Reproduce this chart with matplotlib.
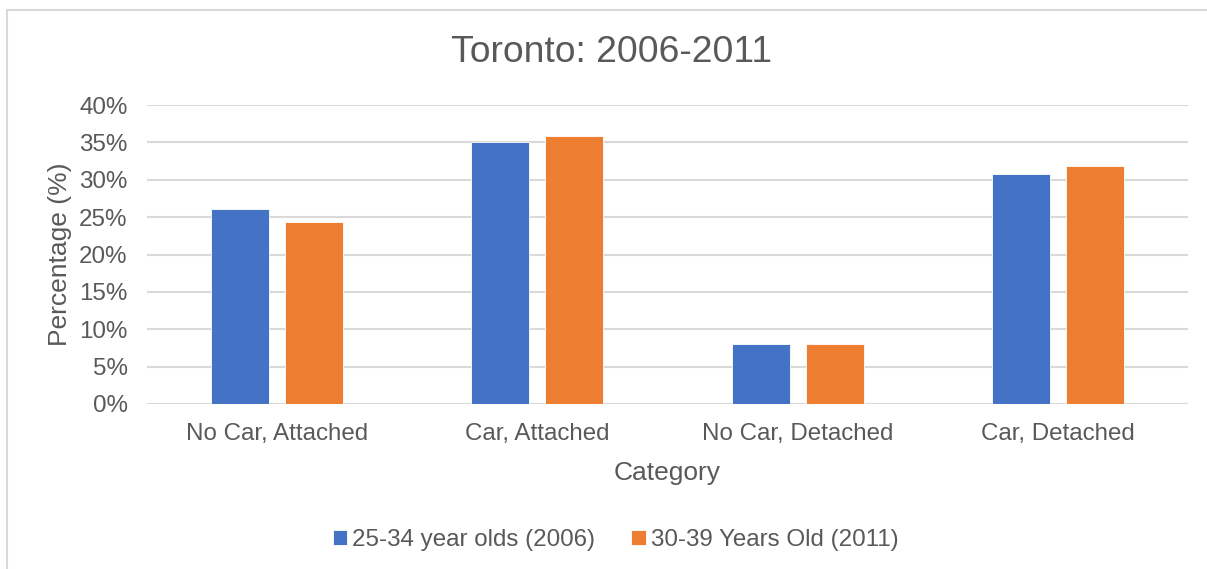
import matplotlib.pyplot as plt
import numpy as np
from matplotlib.patches import Rectangle

categories = ["No Car, Attached", "Car, Attached", "No Car, Detached", "Car, Detached"]
series_names = ["25-34 year olds (2006)", "30-39 Years Old (2011)"]
pct_2006 = [26.1, 35.0, 8.0, 30.8]
pct_2011 = [24.3, 35.9, 8.0, 31.8]
yticks = [0, 5, 10, 15, 20, 25, 30, 35, 40]

plt.rcParams['font.family'] = ['Liberation Sans', 'DejaVu Sans']
TEXT = '#595959'
GRID = '#d9d9d9'
BLUE = '#4472c4'
ORANGE = '#ed7d31'

W, H = 1207, 569
fig = plt.figure(figsize=(W / 100, H / 100), dpi=100)
ax = fig.add_axes([147 / W, 1 - 404 / H, (1188 - 147) / W, (404 - 105) / H])

# outer chart border (light gray, open at the bottom/right)
fig.patches.append(Rectangle((6.5 / W, -0.1), 1.2, 1.1 - 9.5 / H,
                             transform=fig.transFigure, fill=False,
                             edgecolor=GRID, linewidth=1.5))

x = np.arange(len(categories))
bw = 0.223
off = bw / 2 + 0.031
b1 = ax.bar(x - off, pct_2006, bw, color=BLUE, edgecolor='white', linewidth=0.6, zorder=3, label=series_names[0])
b2 = ax.bar(x + off, pct_2011, bw, color=ORANGE, edgecolor='white', linewidth=0.6, zorder=3, label=series_names[1])

ax.set_xlim(-0.5, len(categories) - 0.5)
ax.set_ylim(0, 40)
ax.set_yticks(yticks)
ax.set_yticklabels([f"{t}%" for t in yticks])
ax.set_xticks(x)
ax.set_xticklabels(categories)
ax.yaxis.grid(True, color=GRID, linewidth=1.5, zorder=0)
ax.set_axisbelow(True)
for s in ax.spines.values():
    s.set_visible(False)
ax.tick_params(axis='x', length=0, colors=TEXT, labelsize=17.4, pad=14)
ax.tick_params(axis='y', length=0, colors=TEXT, labelsize=17.4, pad=14)

ax.set_xlabel("Category", fontsize=19, color=TEXT, labelpad=11)
ax.set_ylabel("Percentage (%)", fontsize=19, color=TEXT, labelpad=5)

fig.text(0.507, 1 - 53 / H, "Toronto: 2006-2011", ha='center', va='center',
         fontsize=26.8, color=TEXT)

leg = fig.legend(handles=[b1, b2], loc='center', bbox_to_anchor=(0.510, 1 - 540 / H),
                 ncol=2, frameon=False, fontsize=17.4, handlelength=0.6, handleheight=0.6,
                 handletextpad=0.2, columnspacing=1.5, labelcolor=TEXT)

fig.savefig("out.png", dpi=100, facecolor='white')
